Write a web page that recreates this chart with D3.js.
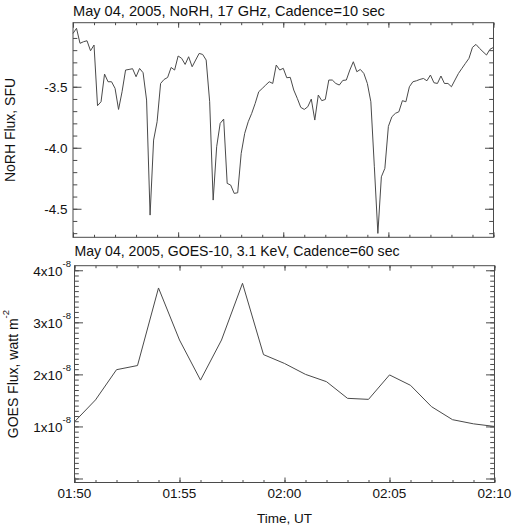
<!DOCTYPE html>
<html>
<head>
<meta charset="utf-8">
<script src="https://cdn.jsdelivr.net/npm/d3@7/dist/d3.min.js"></script>
<style>
  html, body { margin: 0; padding: 0; background: #fff; }
  svg { display: block; }
  text { font-family: "Liberation Sans", Arial, Helvetica, sans-serif; fill: #111; }
</style>
</head>
<body>
<svg id="chart" width="516" height="529"></svg>
<script>
// ---------------- DATA ----------------
// NoRH 17 GHz flux, 10 s cadence, 01:50:00 .. 02:10:00 (121 samples)
const norhFlux = [
  -3.063, -3.021, -3.144, -3.131, -3.123, -3.205, -3.158, -3.655, -3.623, -3.396,
  -3.459, -3.459, -3.513, -3.686, -3.541, -3.363, -3.358, -3.352, -3.418, -3.350,
  -3.385, -3.609, -4.552, -3.937, -3.787, -3.473, -3.440, -3.424, -3.342, -3.363,
  -3.248, -3.267, -3.317, -3.254, -3.336, -3.281, -3.227, -3.235, -3.281, -3.623,
  -4.429, -3.992, -3.800, -3.765, -4.292, -4.306, -4.374, -4.369, -4.046, -3.882,
  -3.787, -3.718, -3.636, -3.541, -3.514, -3.486, -3.459, -3.473, -3.322, -3.363,
  -3.349, -3.426, -3.423, -3.527, -3.595, -3.669, -3.686, -3.664, -3.601, -3.773,
  -3.568, -3.614, -3.604, -3.445, -3.445, -3.473, -3.486, -3.448, -3.445, -3.363,
  -3.295, -3.377, -3.358, -3.391, -3.473, -3.623, -4.156, -4.702, -4.238, -4.169,
  -3.825, -3.746, -3.718, -3.705, -3.614, -3.623, -3.500, -3.459, -3.451, -3.440,
  -3.432, -3.451, -3.404, -3.467, -3.473, -3.412, -3.473, -3.473, -3.500, -3.445,
  -3.391, -3.349, -3.308, -3.267, -3.177, -3.153, -3.185, -3.213, -3.240, -3.193,
  -3.177
];
const norhCadence = 10; // seconds

// GOES-10 flux in units of 1e-8 W m^-2, 60 s cadence, 01:50 .. 02:10
const goesFlux = [
  1.09, 1.51, 2.09, 2.17, 3.66, 2.66, 1.89, 2.66, 3.75, 2.38,
  2.21, 2.00, 1.86, 1.54, 1.52, 1.99, 1.79, 1.38, 1.13, 1.05, 1.00
];
const goesCadence = 60; // seconds

// Tick values / labels
const timeTickSeconds = [0, 300, 600, 900, 1200];
const timeTickLabels = ["01:50", "01:55", "02:00", "02:05", "02:10"];
const norhTickValues = [-3.5, -4.0, -4.5];
const norhTickLabels = ["-3.5", "-4.0", "-4.5"];
const goesTickValues = [1, 2, 3, 4];
const goesTickLabels = ["1x10", "2x10", "3x10", "4x10"];
const goesTickExponent = "-8";

const titleTop = "May 04, 2005, NoRH, 17 GHz, Cadence=10 sec";
const titleBottom = "May 04, 2005, GOES-10, 3.1 KeV, Cadence=60 sec";
const yLabelTop = "NoRH Flux, SFU";
const yLabelBottom = "GOES Flux, watt m";
const yLabelBottomSup = "-2";
const xLabel = "Time, UT";

// ---------------- LAYOUT ----------------
const svg = d3.select("#chart");
const pTop = { x0: 73, x1: 493.5, y0: 22.7, y1: 237.3 };
const pBot = { x0: 74.5, x1: 494.5, y0: 265.7, y1: 482.5 };

const xTop = d3.scaleLinear().domain([0, 1200]).range([pTop.x0, pTop.x1]);
const yTop = d3.scaleLinear().domain([-4.734, -2.975]).range([pTop.y1, pTop.y0]);
const xBot = d3.scaleLinear().domain([0, 1200]).range([pBot.x0, pBot.x1]);
const yBot = d3.scaleLinear().domain([-0.077, 4.088]).range([pBot.y1, pBot.y0]);

const frameColor = "#4a4a4a";
const lineColor = "#4a4a4a";

const minorTime = d3.range(0, 1201, 60);
const minorNorh = d3.range(-47, -30).map(d => d / 10);
const minorGoes = d3.range(0, 41).map(d => d / 10);

function ticks(g, axis) {
  g.call(axis);
  g.select(".domain").remove();
  g.selectAll(".tick line").attr("stroke", frameColor).attr("stroke-width", 1);
  g.selectAll(".tick text").remove();
}

function panelAxes(p, xs, ys, yMinor, yMajor) {
  const XMAJ = 5, XMIN = 2.5, YMAJ = 8.5, YMIN = 4.3;
  ticks(svg.append("g").attr("transform", `translate(0,${p.y1})`),
    d3.axisBottom(xs).tickValues(minorTime).tickSize(-XMIN).tickFormat(""));
  ticks(svg.append("g").attr("transform", `translate(0,${p.y1})`),
    d3.axisBottom(xs).tickValues(timeTickSeconds).tickSize(-XMAJ).tickFormat(""));
  ticks(svg.append("g").attr("transform", `translate(0,${p.y0})`),
    d3.axisTop(xs).tickValues(minorTime).tickSize(-XMIN).tickFormat(""));
  ticks(svg.append("g").attr("transform", `translate(0,${p.y0})`),
    d3.axisTop(xs).tickValues(timeTickSeconds).tickSize(-XMAJ).tickFormat(""));
  ticks(svg.append("g").attr("transform", `translate(${p.x0},0)`),
    d3.axisLeft(ys).tickValues(yMinor).tickSize(-YMIN).tickFormat(""));
  ticks(svg.append("g").attr("transform", `translate(${p.x0},0)`),
    d3.axisLeft(ys).tickValues(yMajor).tickSize(-YMAJ).tickFormat(""));
  ticks(svg.append("g").attr("transform", `translate(${p.x1},0)`),
    d3.axisRight(ys).tickValues(yMinor).tickSize(-YMIN).tickFormat(""));
  ticks(svg.append("g").attr("transform", `translate(${p.x1},0)`),
    d3.axisRight(ys).tickValues(yMajor).tickSize(-YMAJ).tickFormat(""));
  svg.append("rect")
    .attr("x", p.x0).attr("y", p.y0)
    .attr("width", p.x1 - p.x0).attr("height", p.y1 - p.y0)
    .attr("fill", "none").attr("stroke", frameColor).attr("stroke-width", 1);
}

// ---------------- TOP PANEL ----------------
panelAxes(pTop, xTop, yTop, minorNorh, norhTickValues);

svg.append("path")
  .datum(norhFlux)
  .attr("fill", "none")
  .attr("stroke", lineColor)
  .attr("stroke-width", 1)
  .attr("stroke-linejoin", "round")
  .attr("d", d3.line()
    .x((d, i) => xTop(i * norhCadence))
    .y(d => yTop(d)));

svg.append("g").selectAll("text")
  .data(norhTickValues)
  .join("text")
  .attr("x", pTop.x0 - 5.5)
  .attr("y", d => yTop(d) + 4.8)
  .attr("text-anchor", "end")
  .attr("font-size", 13.5)
  .text((d, i) => norhTickLabels[i]);

svg.append("text")
  .attr("x", pTop.x0).attr("y", 15.5)
  .attr("font-size", 14.6)
  .text(titleTop);

svg.append("text")
  .attr("transform", `translate(14.5,${(pTop.y0 + pTop.y1) / 2}) rotate(-90)`)
  .attr("text-anchor", "middle")
  .attr("font-size", 14)
  .text(yLabelTop);

// ---------------- BOTTOM PANEL ----------------
panelAxes(pBot, xBot, yBot, minorGoes, goesTickValues.concat([0]));

svg.append("path")
  .datum(goesFlux)
  .attr("fill", "none")
  .attr("stroke", lineColor)
  .attr("stroke-width", 1)
  .attr("stroke-linejoin", "round")
  .attr("d", d3.line()
    .x((d, i) => xBot(i * goesCadence))
    .y(d => yBot(d)));

const gl = svg.append("g").selectAll("text")
  .data(goesTickValues)
  .join("text")
  .attr("x", pBot.x0 - 3.5)
  .attr("y", d => yBot(d) + 5.5)
  .attr("text-anchor", "end")
  .attr("font-size", 13.5);
gl.append("tspan").text((d, i) => goesTickLabels[i]);
gl.append("tspan").attr("dy", -9).attr("font-size", 9.5).text(goesTickExponent);

svg.append("g").selectAll("text")
  .data(timeTickSeconds)
  .join("text")
  .attr("x", d => xBot(d))
  .attr("y", 498)
  .attr("text-anchor", "middle")
  .attr("font-size", 13.5)
  .text((d, i) => timeTickLabels[i]);

svg.append("text")
  .attr("x", pBot.x0).attr("y", 255.5)
  .attr("font-size", 14.1)
  .text(titleBottom);

const yl = svg.append("text")
  .attr("transform", `translate(17.5,${(pBot.y0 + pBot.y1) / 2}) rotate(-90)`)
  .attr("text-anchor", "middle")
  .attr("font-size", 14);
yl.append("tspan").text(yLabelBottom);
yl.append("tspan").attr("dy", -8.5).attr("font-size", 9.5).text(yLabelBottomSup);

svg.append("text")
  .attr("x", (pBot.x0 + pBot.x1) / 2).attr("y", 522.5)
  .attr("text-anchor", "middle")
  .attr("font-size", 13.5)
  .text(xLabel);
</script>
</body>
</html>
